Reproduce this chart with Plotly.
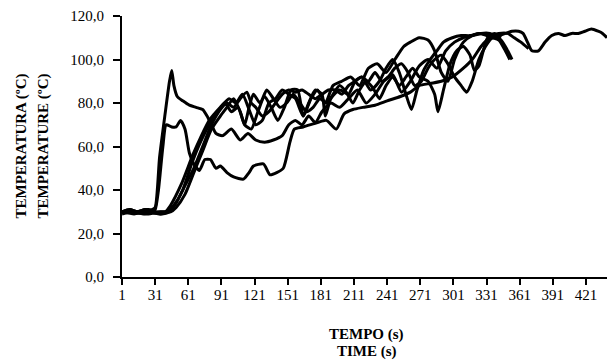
import plotly.graph_objects as go

# ---- data (time in s, temperature in ºC) ----
t_a = [1, 8, 15, 22, 28, 31, 35, 40, 44, 46, 48, 51, 56, 62, 68, 74, 78, 82, 86, 92, 100, 108, 115, 122, 130,
       138, 146, 152, 158, 164, 170, 176, 182, 190, 198, 206, 214, 222, 230, 238, 246, 254, 262, 270, 278,
       286, 294, 302, 310, 318, 326, 334, 342, 348, 354]
v_a = [30, 31, 30, 31, 31, 32, 55, 75, 90, 95, 88, 83, 81, 79, 78, 77, 74, 70, 66, 65, 68, 63, 66, 63, 62,
       63, 65, 70, 72, 70, 74, 71, 76, 80, 78, 82, 86, 80, 84, 90, 93, 85, 90, 97, 100,
       96, 104, 108, 110, 111, 112, 112, 110, 106, 100]

t_b = [1, 8, 15, 22, 28, 31, 34, 38, 41, 46, 50, 54, 58, 62, 66, 71, 76, 81, 86, 90, 96, 102, 111, 116, 120,
       129, 135, 141, 147, 153, 157, 165, 178, 186, 195, 202, 210, 219, 230, 241, 253, 262, 270, 280, 290,
       300, 310, 318, 326, 334, 342, 348, 352]
v_b = [30, 31, 30, 31, 30, 31, 40, 60, 70, 69, 69, 72, 68, 57, 52, 49, 54, 54, 50, 51, 48, 46, 45, 48, 51,
       52, 47, 48, 50, 62, 68, 69, 71, 72, 68, 75, 77, 78, 79, 81, 83, 85, 88, 89, 90,
       92, 96, 100, 106, 110, 109, 104, 100]

t_c = [1, 10, 20, 30, 40, 45, 55, 65, 72, 80, 90, 98, 104, 110, 116, 122, 128, 134, 140, 146, 152, 158, 165,
       172, 178, 185, 192, 200, 208, 216, 224, 232, 240, 248, 256, 262, 270, 278, 284, 290, 296, 302, 310,
       318, 326, 334, 342, 350, 356, 362, 369]
v_c = [29, 30, 29, 30, 30, 33, 43, 56, 64, 72, 78, 82, 80, 84, 77, 70, 72, 80, 82, 86, 84, 82, 74,
       82, 86, 80, 88, 90, 92, 88, 96, 98, 94, 100, 106, 108, 110, 109, 104, 94, 90, 100, 108,
       111, 112, 111, 112, 112, 110, 108, 105]

t_d = [1, 12, 24, 36, 42, 48, 56, 64, 72, 80, 88, 94, 100, 106, 112, 118, 124, 130, 136, 142, 148, 154, 160,
       165, 170, 176, 182, 185, 190, 198, 206, 212, 218, 226, 234, 240, 246, 252, 258, 263, 268, 274, 280,
       286, 292, 300, 308, 316, 324, 332, 340]
v_d = [30, 29, 30, 29, 30, 33, 40, 52, 62, 70, 76, 80, 76, 78, 70, 68, 76, 83, 78, 72, 78, 86, 86,
       74, 80, 86, 84, 74, 82, 86, 84, 90, 92, 86, 90, 96, 100, 94, 84, 77, 86, 95, 100,
       104, 108, 110, 111, 111, 112, 111, 110]

t_e = [1, 12, 24, 36, 45, 50, 58, 66, 74, 82, 90, 96, 102, 108, 112, 116, 120, 126, 132, 138, 144, 150, 156,
       162, 168, 174, 180, 186, 192, 198, 204, 210, 216, 222, 228, 234, 240, 246, 252, 258, 264, 270, 278,
       284, 287, 292, 298, 304, 310, 316, 320, 324, 328, 332, 338, 344]
v_e = [30, 30, 29, 30, 30, 32, 38, 48, 58, 68, 74, 78, 82, 76, 70, 78, 84, 80, 86, 82, 78, 80, 84,
       80, 76, 78, 82, 80, 84, 88, 85, 80, 86, 90, 87, 82, 88, 92, 88, 92, 96, 92, 90,
       84, 76, 86, 98, 104, 106, 102, 95, 97, 104, 110, 112, 110]

t_f = [1, 12, 24, 36, 44, 50, 58, 66, 74, 82, 90, 96, 102, 108, 114, 118, 122, 128, 134, 140, 146, 152, 158,
       164, 170, 176, 182, 188, 194, 200, 206, 212, 218, 224, 230, 236, 242, 248, 254, 260, 266, 272, 278,
       284, 290, 296, 302, 308, 313, 318, 324, 330, 336, 342, 348, 354, 360, 364, 368, 372, 378, 384, 390,
       396, 402, 408, 414, 420, 426, 432, 436, 440]
v_f = [30, 30, 30, 29, 30, 34, 42, 50, 60, 70, 77, 80, 78, 82, 85, 80, 78, 74, 76, 80, 84, 86, 85,
       86, 84, 82, 84, 86, 86, 84, 88, 90, 92, 90, 94, 90, 92, 96, 98, 94, 88, 90, 96,
       100, 102, 98, 92, 88, 85, 90, 100, 106, 110, 111, 112, 113, 113, 112, 108, 104, 104, 108, 111,
       112, 111, 112, 112, 113, 114, 113, 112, 110]

series = [(t_a, v_a), (t_b, v_b), (t_c, v_c), (t_d, v_d), (t_e, v_e), (t_f, v_f)]

x_ticks = list(range(1, 422, 30))
y_ticks = [0, 20, 40, 60, 80, 100, 120]
y_tick_labels = ["0,0", "20,0", "40,0", "60,0", "80,0", "100,0", "120,0"]

FONT = "Liberation Serif"

fig = go.Figure()
for t, v in series:
    fig.add_trace(go.Scatter(x=t, y=v, mode="lines",
                             line=dict(color="black", width=3, shape="spline", smoothing=0.6),
                             showlegend=False, hoverinfo="skip"))

fig.update_layout(
    width=607, height=363,
    margin=dict(l=122, r=0, t=16, b=86),
    paper_bgcolor="white", plot_bgcolor="white",
    font=dict(family=FONT, color="black", size=15),
    showlegend=False,
)
fig.update_xaxes(
    range=[1, 440], tickmode="array", tickvals=x_ticks,
    ticktext=[str(v) for v in x_ticks],
    showline=True, linecolor="black", linewidth=2,
    ticks="outside", ticklen=6, tickwidth=2, tickcolor="black",
    ticklabelstandoff=-3,
    showgrid=False, zeroline=False,
    tickfont=dict(family=FONT, size=15, color="black"),
)
fig.update_yaxes(
    range=[0, 120], tickmode="array", tickvals=y_ticks, ticktext=y_tick_labels,
    showline=True, linecolor="black", linewidth=2,
    ticks="outside", ticklen=7, tickwidth=2, tickcolor="black",
    ticklabelstandoff=6,
    showgrid=False, zeroline=False,
    tickfont=dict(family=FONT, size=15, color="black"),
)

title_font = dict(family=FONT, size=15, color="black")
fig.add_annotation(text="<b>TEMPERATURA (ºC)</b>", xref="paper", yref="paper", x=0, y=0.5,
                   xshift=-101, textangle=-90, showarrow=False, font=title_font,
                   xanchor="center", yanchor="middle")
fig.add_annotation(text="<b>TEMPERATURE (ºC)</b>", xref="paper", yref="paper", x=0, y=0.5,
                   xshift=-79, textangle=-90, showarrow=False, font=title_font,
                   xanchor="center", yanchor="middle")
fig.add_annotation(text="<b>TEMPO (s)</b>", xref="paper", yref="paper", x=0.5, y=0,
                   xshift=2, yshift=-57, showarrow=False, font=title_font,
                   xanchor="center", yanchor="middle")
fig.add_annotation(text="<b>TIME (s)</b>", xref="paper", yref="paper", x=0.5, y=0,
                   xshift=2, yshift=-74, showarrow=False, font=title_font,
                   xanchor="center", yanchor="middle")

fig.write_html("out.html")
